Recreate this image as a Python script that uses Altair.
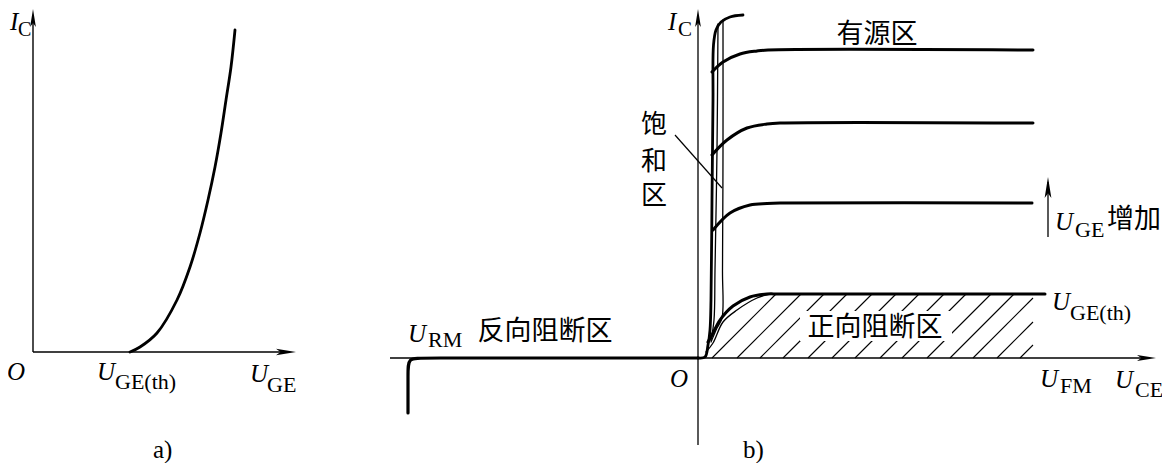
import altair as alt
import pandas as pd

W, H = 1154, 455
XS = alt.Scale(domain=[8, 8 + W], nice=False, zero=False)
YS = alt.Scale(domain=[8, 8 + H], reverse=True, nice=False, zero=False)
# where each panel's origin O sits on the canvas (layout)
ORIGIN = {"a": (33, 352), "b": (698, 358)}

# ---------------- data (a): transfer characteristic ----------------
a_uge = [97, 107, 124, 144, 157, 167, 175, 182, 188, 193, 198, 202]
a_ic = [0, 5, 19, 52, 85, 119, 152, 185, 219, 252, 285, 322]

# ---------------- data (b): output characteristics ----------------
rev_uce = [0, -150, -276, -290, -290, -290]
rev_ic = [0, 0, 0, 0, -14, -55]
sat_uce = [0, 7, 10, 12, 13, 14, 15, 15.5, 18, 23, 32, 45]
sat_ic = [0, 1, 13, 28, 58, 158, 258, 313, 328, 336, 341, 343]
sat1_uce = [20, 19, 17, 16, 13]
sat1_ic = [334, 208, 88, 38, 18]
sat2_uce = [25, 25, 24.5, 24, 19, 13]
sat2_ic = [338, 208, 88, 40, 30, 16]
th_uce = [10, 14, 22, 35, 52, 69, 82, 347]
th_ic = [16, 23, 38, 52, 61, 64, 64, 64]
inner_uce = [8, 15, 25, 39, 59, 72]
inner_ic = [6, 15, 36, 48, 60, 64]
lv1_uce = [14, 25, 42, 59, 70, 335]
lv1_ic = [286, 296, 304, 307, 308, 308]
lv2_uce = [14, 29, 49, 69, 82, 335]
lv2_ic = [203, 218, 230, 234, 235, 235]
lv3_uce = [15, 32, 52, 69, 82, 334]
lv3_ic = [128, 145, 153, 154.5, 155, 155]
hatch_start = [14, 39, 62, 85, 110, 134, 157, 182, 204, 229, 252, 275, 299, 322]
hatch_top = 64
hatch_right = 335

# labels
ital_panel = ["a", "a", "a", "a", "b", "b", "b", "b", "b", "b", "b"]
ital_text = ["I", "O", "U", "U", "I", "O", "U", "U", "U", "U", "U"]
ital_u = [-23, -26, 64, 217, -30, -28, -290, 357, 354, 342, 417]
ital_v = [322, -28, -28, -30, 328, -29, 16, 128, 48, -29, -30]

sub_panel = ["a", "a", "a", "a", "b", "b", "b", "b", "b", "b", "b"]
sub_text = ["C", "GE(th)", "GE", "a)", "C", "RM", "GE", "GE(th)", "FM", "CE", "b)"]
sub_u = [-15, 82, 234, 120, -20, -270, 377, 372, 362, 437, 45]
sub_v = [316, -37, -40, -106, 322, 11, 121, 38, -35, -39, -100]
sub_fs = [20, 22, 22, 25, 21, 22, 22, 22, 22, 22, 25]

cjk_text = ["反向阻断区", "饱", "和", "区", "有源区", "增加", "正向阻断区"]
cjk_u = [-153, -44, -44, -44, 179, 436, 177]
cjk_v = [26, 233, 196, 162, 323, 138, 30]
cjk_fs = [27, 26, 26, 26, 27, 27, 27]


def frame(panel, **cols):
    df = pd.DataFrame(cols)
    if isinstance(panel, str):
        panel = [panel] * len(df)
    df["ox"] = [ORIGIN[p][0] for p in panel]
    df["oy"] = [ORIGIN[p][1] for p in panel]
    return df


def base(df):
    return alt.Chart(df).transform_calculate(
        px="datum.ox + datum.u", py="datum.oy - datum.v"
    )


X = alt.X("px:Q", scale=XS, axis=None)
Y = alt.Y("py:Q", scale=YS, axis=None)


def curve_frame(items):
    dfs = []
    for p, name, u, v, w in items:
        d = frame(p, u=u, v=v)
        d["curve"] = name
        d["i"] = range(len(d))
        d["w"] = w
        dfs.append(d)
    return pd.concat(dfs, ignore_index=True)


def curve_layer(df, interp):
    return base(df).mark_line(
        color="black", interpolate=interp, strokeCap="round", strokeJoin="round"
    ).encode(
        x=X, y=Y, detail="curve:N", order="i:Q",
        strokeWidth=alt.StrokeWidth("w:Q", scale=None),
    )


smooth_df = curve_frame([
    ("a", "transfer", a_uge, a_ic, 2.8),
    ("b", "sat", sat_uce, sat_ic, 2.8),
    ("b", "sat1", sat1_uce, sat1_ic, 1.3),
    ("b", "sat2", sat2_uce, sat2_ic, 1.3),
    ("b", "inner", inner_uce, inner_ic, 1.3),
    ("b", "th", th_uce, th_ic, 3.0),
    ("b", "lv1", lv1_uce, lv1_ic, 3.0),
    ("b", "lv2", lv2_uce, lv2_ic, 3.0),
    ("b", "lv3", lv3_uce, lv3_ic, 3.0),
])
corner_df = curve_frame([("b", "reverse", rev_uce, rev_ic, 3.2)])

# ---- straight segments: axes, leader, arrow shaft, hatching ----
seg_panel, seg_u, seg_v, seg_u2, seg_v2, seg_w = [], [], [], [], [], []


def seg(p, u, v, u2, v2, w):
    seg_panel.append(p); seg_u.append(u); seg_v.append(v)
    seg_u2.append(u2); seg_v2.append(v2); seg_w.append(w)


seg("a", 0, 0, 0, 336, 1.4)
seg("a", 0, 0, 256, 0, 1.4)
seg("b", 0, -87, 0, 340, 1.3)
seg("b", -308, 0, 450, 0, 1.3)
seg("b", 350, 121, 350, 176, 1.3)
seg("b", -23, 223, 24, 170, 1.2)
for xb in hatch_start:
    ue = min(xb + hatch_top, hatch_right)
    seg("b", xb, 0, ue, ue - xb, 1.1)

seg_df = frame(seg_panel, u=seg_u, v=seg_v, u2=seg_u2, v2=seg_v2, w=seg_w)
seg_layer = base(seg_df).transform_calculate(
    px2="datum.ox + datum.u2", py2="datum.oy - datum.v2"
).mark_rule(color="black", strokeCap="butt").encode(
    x=X, y=Y, x2="px2:Q", y2="py2:Q",
    strokeWidth=alt.StrokeWidth("w:Q", scale=None),
)

# ---- white box behind 正向阻断区 ----
box_df = frame("b", u=[102], v=[17], u2=[254], v2=[47])
box_layer = base(box_df).transform_calculate(
    px2="datum.ox + datum.u2", py2="datum.oy - datum.v2"
).mark_rect(color="white").encode(x=X, y=Y, x2="px2:Q", y2="py2:Q")

# ---- arrowheads ----
ARROW = "M0,0 L0.32,2 L0,1.55 L-0.32,2 Z"
arr_df = frame(["a", "a", "b", "b", "b"],
               u=[0, 263, 0, 458, 350], v=[343, 0, 349, 0, 181],
               ang=[0, 90, 0, 90, 0], s=[324, 400, 324, 361, 441])
arr_layer = base(arr_df).mark_point(
    shape=ARROW, filled=True, color="black", opacity=1, strokeWidth=0
).encode(
    x=X, y=Y, angle=alt.Angle("ang:Q", scale=None), size=alt.Size("s:Q", scale=None)
)

# ---- text ----
ital_df = frame(ital_panel, t=ital_text, u=ital_u, v=ital_v)
ital_layer = base(ital_df).mark_text(
    font="Liberation Serif", fontStyle="italic", fontSize=25, align="left",
    baseline="alphabetic", color="black"
).encode(x=X, y=Y, text="t:N")

sub_df = frame(sub_panel, t=sub_text, u=sub_u, v=sub_v, fs=sub_fs)
sub_layer = base(sub_df).mark_text(
    font="Liberation Serif", align="left", baseline="alphabetic", color="black"
).encode(x=X, y=Y, text="t:N", size=alt.Size("fs:Q", scale=None))

cjk_df = frame("b", t=cjk_text, u=cjk_u, v=cjk_v, fs=cjk_fs)
cjk_layer = base(cjk_df).mark_text(
    font="Noto Sans CJK SC", align="center", baseline="middle", color="black"
).encode(x=X, y=Y, text="t:N", size=alt.Size("fs:Q", scale=None))

chart = alt.layer(
    seg_layer, box_layer, curve_layer(smooth_df, "catmull-rom"),
    curve_layer(corner_df, "basis"), arr_layer, ital_layer, sub_layer, cjk_layer
).properties(
    width=W, height=H, autosize=alt.AutoSizeParams(type="none"), padding=0,
    background="white",
).configure_view(strokeWidth=0)

chart.save("out.html", embed_options={"renderer": "svg", "actions": False})
